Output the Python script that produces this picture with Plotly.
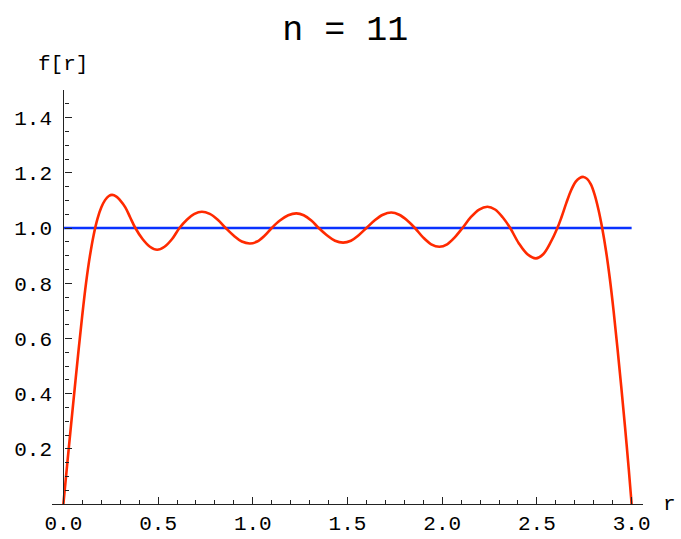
import plotly.graph_objects as go

# Partial-sum approximation f[r] (n = 11 terms) sampled along r
r_vals = [0.000, 0.020, 0.040, 0.060, 0.080, 0.100, 0.120, 0.140, 0.160, 0.180,
          0.200, 0.220, 0.240, 0.257, 0.280, 0.300, 0.327, 0.353, 0.380, 0.418,
          0.457, 0.495, 0.534, 0.574, 0.613, 0.652, 0.692, 0.731, 0.773, 0.815,
          0.857, 0.900, 0.942, 0.985, 1.023, 1.062, 1.100, 1.143, 1.187, 1.230,
          1.269, 1.309, 1.348, 1.391, 1.434, 1.477, 1.518, 1.559, 1.600, 1.644,
          1.687, 1.731, 1.773, 1.814, 1.856, 1.899, 1.942, 1.985, 2.026, 2.066,
          2.107, 2.151, 2.195, 2.239, 2.279, 2.319, 2.359, 2.404, 2.450, 2.495,
          2.533, 2.570, 2.608, 2.630, 2.655, 2.680, 2.705, 2.725, 2.746, 2.765,
          2.785, 2.805, 2.825, 2.845, 2.865, 2.885, 2.905, 2.925, 2.945, 2.965,
          2.985, 3.000]
f_vals = [0.000, 0.142, 0.282, 0.420, 0.556, 0.685, 0.802, 0.898, 0.975, 1.033,
          1.074, 1.101, 1.116, 1.120, 1.114, 1.100, 1.075, 1.038, 1.000, 0.960,
          0.932, 0.921, 0.932, 0.960, 1.000, 1.030, 1.051, 1.059, 1.051, 1.030,
          1.000, 0.972, 0.951, 0.944, 0.951, 0.972, 1.000, 1.027, 1.046, 1.053,
          1.046, 1.027, 1.000, 0.974, 0.954, 0.947, 0.954, 0.974, 1.000, 1.028,
          1.048, 1.056, 1.048, 1.028, 1.000, 0.966, 0.941, 0.932, 0.941, 0.966,
          1.000, 1.039, 1.067, 1.077, 1.067, 1.039, 1.000, 0.945, 0.905, 0.890,
          0.905, 0.945, 1.000, 1.040, 1.090, 1.136, 1.168, 1.181, 1.185, 1.178,
          1.158, 1.120, 1.066, 0.998, 0.916, 0.816, 0.698, 0.566, 0.426, 0.280,
          0.125, 0.000]

# Target function f[r] = 1 on [0, 3]
target_r = [0.0, 3.0]
target_f = [1.0, 1.0]

x_ticks = [0.0, 0.5, 1.0, 1.5, 2.0, 2.5, 3.0]
y_ticks = [0.2, 0.4, 0.6, 0.8, 1.0, 1.2, 1.4]

FONT = "Liberation Mono"

fig = go.Figure()
fig.add_trace(go.Scatter(x=target_r, y=target_f, mode="lines",
                         line=dict(color="#0a32ff", width=2.5), hoverinfo="skip"))
fig.add_trace(go.Scatter(x=r_vals, y=f_vals, mode="lines",
                         line=dict(color="#ff2a00", width=2.6, shape="spline", smoothing=1.0),
                         hoverinfo="skip"))

x_lo, x_hi = -0.06, 3.06
y_axis_pos = (0 - x_lo) / (x_hi - x_lo)
fig.update_layout(
    width=681, height=539,
    margin=dict(l=52, r=38, t=90, b=35),
    paper_bgcolor="white", plot_bgcolor="white",
    showlegend=False,
    title=dict(text="n = 11", x=0.507, xanchor="center", y=0.948, yanchor="middle",
               font=dict(family=FONT, size=35, color="black")),
    font=dict(family=FONT, color="black"),
    xaxis=dict(
        range=[x_lo, x_hi], showgrid=False, zeroline=False, automargin=False,
        showline=True, linecolor="#222", linewidth=1.3,
        tickvals=x_ticks, ticktext=[f"{v:.1f}" for v in x_ticks],
        ticks="inside", ticklen=7, tickwidth=1.2, tickcolor="#222",
        tickfont=dict(family=FONT, size=21, color="black"),
        minor=dict(dtick=0.1, tick0=0, ticks="inside", ticklen=4, tickwidth=1.2, tickcolor="#222"),
    ),
    yaxis=dict(
        range=[0, 1.5], showgrid=False, zeroline=False, automargin=False,
        anchor="free", position=y_axis_pos,
        showline=True, linecolor="#222", linewidth=1.3,
        tickvals=y_ticks, ticktext=[f"{v:.1f}" for v in y_ticks],
        ticks="inside", ticklen=7, tickwidth=1.2, tickcolor="#222",
        ticklabelstandoff=7,
        tickfont=dict(family=FONT, size=21, color="black"),
        minor=dict(dtick=0.05, tick0=0, ticks="inside", ticklen=4, tickwidth=1.2, tickcolor="#222"),
    ),
    annotations=[
        dict(text="f[r]", xref="paper", yref="paper", x=y_axis_pos, y=1.0,
             xanchor="center", yanchor="middle", yshift=26, showarrow=False,
             font=dict(family=FONT, size=21, color="black")),
        dict(text="r", xref="paper", yref="paper", x=1.0, y=0.0,
             xanchor="left", yanchor="middle", xshift=18, showarrow=False,
             font=dict(family=FONT, size=21, color="black")),
    ],
)

fig.write_html("out.html")
